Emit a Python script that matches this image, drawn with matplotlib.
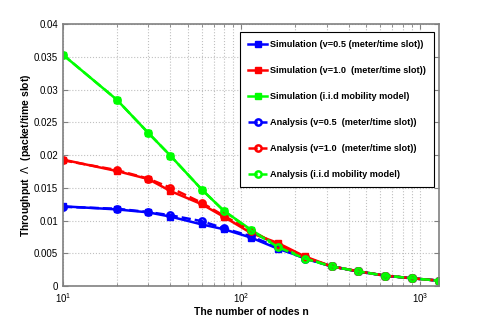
import numpy as np
import matplotlib
matplotlib.use("Agg")
import matplotlib.pyplot as plt
from matplotlib.ticker import LogLocator, NullFormatter

plt.rcParams['font.family'] = ['Liberation Sans', 'DejaVu Sans']

n = [10, 20, 30, 40, 60, 80, 113, 160, 226, 320, 452, 640, 905, 1280]

sim_v05 = [0.01217, 0.0117, 0.01125, 0.0106, 0.0094, 0.00866, 0.0074, 0.0057, 0.0043, 0.0030, 0.00222, 0.00157, 0.00117, 0.00082]
sim_v10 = [0.0193, 0.01756, 0.01634, 0.0145, 0.01248, 0.01054, 0.0081, 0.00657, 0.00453, 0.0030, 0.00225, 0.00159, 0.00118, 0.00083]
sim_iid = [0.0353, 0.02846, 0.0234, 0.0199, 0.01472, 0.01145, 0.0086, 0.00606, 0.00428, 0.0030, 0.00224, 0.00158, 0.00118, 0.00082]

ana_v05 = [0.0121, 0.0118, 0.0113, 0.0108, 0.0099, 0.0088, 0.0076, 0.0059, 0.0042, 0.0030, 0.00222, 0.00158, 0.00118, 0.00082]
ana_v10 = [0.0192, 0.0177, 0.0164, 0.0150, 0.0127, 0.0107, 0.0084, 0.0063, 0.0044, 0.0030, 0.00224, 0.00158, 0.00118, 0.00082]
ana_iid = [0.0353, 0.02846, 0.0234, 0.0199, 0.01472, 0.01145, 0.0085, 0.00596, 0.0042, 0.0030, 0.00223, 0.00158, 0.00118, 0.00082]

labels = ['Simulation (v=0.5 (meter/time slot))',
          'Simulation (v=1.0  (meter/time slot))',
          'Simulation (i.i.d mobility model)',
          'Analysis (v=0.5  (meter/time slot))',
          'Analysis (v=1.0  (meter/time slot))',
          'Analysis (i.i.d mobility model)']

blue, red, green = '#0000ff', '#ff0000', '#00ff00'

fig = plt.figure(figsize=(4.85, 3.21), dpi=100)
ax = fig.add_axes([0.13, 0.109, 0.775, 0.816])

for y, c, lab in zip([sim_v05, sim_v10, sim_iid], [blue, red, green], labels[:3]):
    ax.plot(n, y, '-s', color=c, lw=1.8, ms=4.5, mfc=c, mec=c, label=lab)
for y, c, lab in zip([ana_v05, ana_v10, ana_iid], [blue, red, green], labels[3:]):
    ax.plot(n, y, '--o', color=c, lw=1.8, ms=4.5, mfc='none', mec=c, mew=1.8, label=lab)

ax.set_xscale('log')
ax.set_xlim(10, 1280)
ax.set_ylim(0, 0.04)
ax.set_yticks(np.arange(0, 0.0401, 0.005))
ax.set_yticklabels(['0', '0.005', '0.01', '0.015', '0.02', '0.025', '0.03', '0.035', '0.04'])
ax.xaxis.set_minor_locator(LogLocator(base=10, subs=np.arange(2, 10)))
ax.xaxis.set_minor_formatter(NullFormatter())

ax.grid(True, which='major', ls=':', color='#c0c0c0', lw=0.8)
ax.grid(True, which='minor', axis='x', ls=':', color='#c0c0c0', lw=0.8)
ax.tick_params(which='both', direction='in', top=True, right=True, labelsize=7, color='#808080')
for s in ax.spines.values():
    s.set_color('#808080')
    s.set_linewidth(1.2)

ax.set_xlabel('The number of nodes n', fontsize=7.5, fontweight='bold', labelpad=2)
ax.set_ylabel('Throughput  $\\Lambda$  (packet/time slot)', fontsize=7.5, fontweight='bold', labelpad=1)

leg = ax.legend(loc='upper right', bbox_to_anchor=(0.987, 0.969), borderaxespad=0,
                prop={'weight': 'bold', 'size': 6.6},
                fancybox=False, framealpha=1, edgecolor='black', handlelength=2.1,
                labelspacing=1.85, borderpad=0.9, handletextpad=0.3)
leg.get_frame().set_linewidth(0.8)

fig.savefig('out.png', dpi=100)
